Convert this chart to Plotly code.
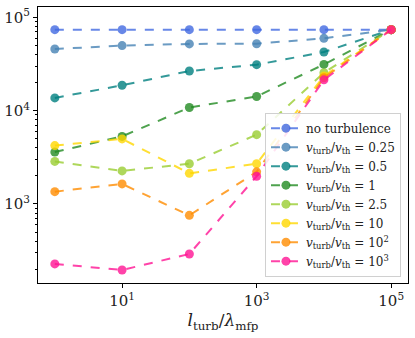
import plotly.graph_objects as go

x_vals = [1, 10, 100, 1000, 10000, 100000]

series_names = [
    "no turbulence",
    "<i>v</i><sub>turb</sub>/<i>v</i><sub>th</sub> = 0.25",
    "<i>v</i><sub>turb</sub>/<i>v</i><sub>th</sub> = 0.5",
    "<i>v</i><sub>turb</sub>/<i>v</i><sub>th</sub> = 1",
    "<i>v</i><sub>turb</sub>/<i>v</i><sub>th</sub> = 2.5",
    "<i>v</i><sub>turb</sub>/<i>v</i><sub>th</sub> = 10",
    "<i>v</i><sub>turb</sub>/<i>v</i><sub>th</sub> = 10<sup>2</sup>",
    "<i>v</i><sub>turb</sub>/<i>v</i><sub>th</sub> = 10<sup>3</sup>",
]

no_turb = [73800, 73800, 73800, 73800, 73800, 73800]
v_0_25 = [45800, 49800, 51900, 52200, 59600, 73800]
v_0_5 = [13700, 18700, 26600, 31100, 42500, 73800]
v_1 = [3600, 5300, 10800, 14200, 31300, 73800]
v_2_5 = [2860, 2260, 2700, 5530, 25500, 73800]
v_10 = [4220, 4980, 2130, 2700, 23500, 73800]
v_100 = [1355, 1640, 755, 2210, 22500, 73800]
v_1000 = [228, 196, 291, 1980, 21400, 73800]

series_values = [no_turb, v_0_25, v_0_5, v_1, v_2_5, v_10, v_100, v_1000]

x_tick_vals = [10, 1000, 100000]
x_tick_text = ["10<sup>1</sup>", "10<sup>3</sup>", "10<sup>5</sup>"]
y_tick_vals = [1000, 10000, 100000]
y_tick_text = ["10<sup>3</sup>", "10<sup>4</sup>", "10<sup>5</sup>"]

colors = [
    "rgba(65,105,225,0.8)",
    "rgba(70,130,180,0.8)",
    "rgba(0,128,128,0.8)",
    "rgba(34,139,34,0.8)",
    "rgba(154,205,50,0.8)",
    "rgba(255,215,0,0.8)",
    "rgba(255,140,0,0.8)",
    "rgba(255,20,147,0.8)",
]

fig = go.Figure()
for name, vals, c in zip(series_names, series_values, colors):
    fig.add_trace(go.Scatter(
        x=x_vals, y=vals, name=name, mode="lines+markers",
        line=dict(color=c, width=2, dash="dash"),
        marker=dict(color=c, size=9),
    ))

font_family = "DejaVu Serif"

fig.update_layout(
    width=415, height=338,
    margin=dict(l=38, r=7, t=7, b=55),
    paper_bgcolor="white", plot_bgcolor="white",
    font=dict(family=font_family, color="#222"),
    showlegend=True,
    legend=dict(
        x=0.981, xanchor="right", y=0.023, yanchor="bottom",
        bgcolor="rgba(255,255,255,0.85)", bordercolor="#d0d0d0", borderwidth=1,
        font=dict(size=12, family=font_family), tracegroupgap=0,
        itemwidth=30,
    ),
    xaxis=dict(
        type="log", range=[-0.25, 5.25], automargin=False,
        tickmode="array", tickvals=x_tick_vals, ticktext=x_tick_text,
        ticks="outside", ticklen=4, tickcolor="black",
        showline=True, linecolor="black", linewidth=1, mirror=True,
        showgrid=False, zeroline=False,
        tickfont=dict(size=15, family=font_family, color="#222"),
        title=dict(text="<i>l</i><sub>turb</sub>/<i>λ</i><sub>mfp</sub>",
                   font=dict(size=17, family=font_family, color="#222"), standoff=2),
    ),
    yaxis=dict(
        type="log", range=[2.153, 5.111], automargin=False,
        tickmode="array", tickvals=y_tick_vals, ticktext=y_tick_text,
        ticks="outside", ticklen=4, tickcolor="black",
        showline=True, linecolor="black", linewidth=1, mirror=True,
        showgrid=False, zeroline=False,
        tickfont=dict(size=15, family=font_family, color="#222"),
        minor=dict(ticks="outside", ticklen=2, tickcolor="black", dtick="D1", showgrid=False),
    ),
)

fig.write_html("out.html", config={"displayModeBar": False},
               post_script="document.body.style.margin='0';")
